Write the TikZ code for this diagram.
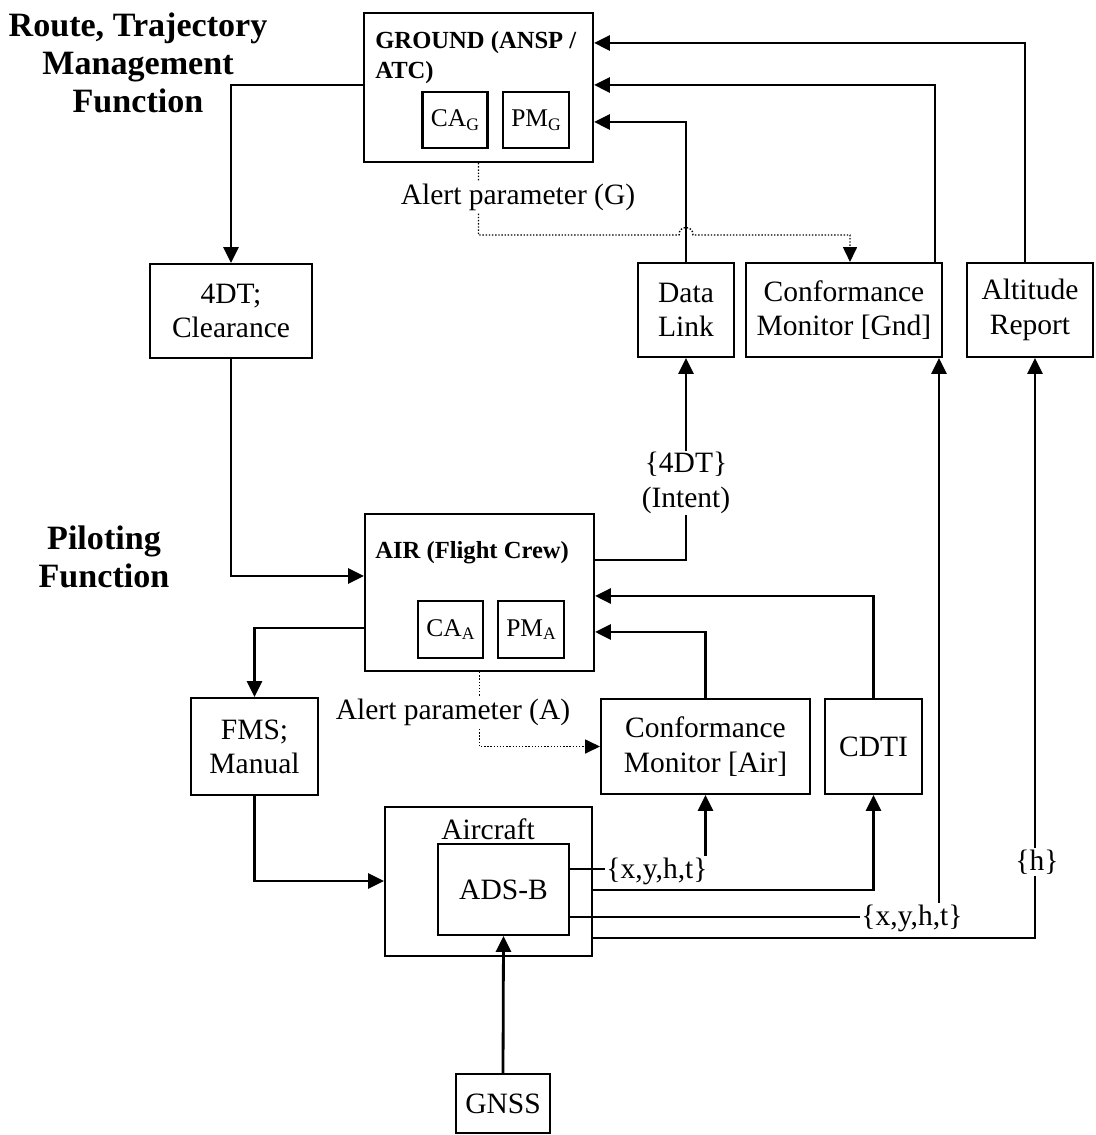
\documentclass[tikz,border=0pt]{standalone}
\usepackage{fontspec}
\setmainfont{Liberation Serif}
\usetikzlibrary{positioning,arrows.meta,calc}
\newcommand{\lowsub}[1]{\raisebox{-0.3ex}{\fontsize{10}{10}\selectfont #1}}

\begin{document}
\begin{tikzpicture}[
  x=0.02cm, y=-0.02cm,
  font=\fontsize{16.8}{19.5}\selectfont,
  box/.style={draw, line width=1.2pt, align=center, inner sep=0pt},
  sbox/.style={box, font=\fontsize{14.5}{16}\selectfont, minimum width=1.3cm, minimum height=1.13cm},
  head/.style={font=\fontsize{14}{17}\selectfont\bfseries, align=left, inner sep=0pt},
  title/.style={font=\fontsize{19.4}{21.5}\selectfont\bfseries, align=center},
  arr/.style={-{Triangle[length=9pt,width=8.5pt]}, line width=1.6pt},
  alert/.style={densely dotted, line width=0.8pt, -{Triangle[length=8.5pt,width=8pt]}},
  tag/.style={fill=white, inner sep=1pt, align=center}
]
\useasboundingbox (0,0) rectangle (1095,1135);
\node[title] (rtm) at (138,63) {Route, Trajectory\\Management\\Function};
\node[title] (pilot) at (104,557) {Piloting\\Function};
\node[box, minimum width=4.58cm, minimum height=2.98cm] (ground) at (478.5,87.5) {};
\node[head, anchor=north west] (gtitle) at (375,31) {GROUND (ANSP /\\ATC)};
\node[sbox] (cag) at (455,120) {CA\lowsub{G}};
\node[sbox, minimum width=1.32cm] (pmg) at (536,120) {PM\lowsub{G}};
\node[box, minimum width=1.92cm, minimum height=1.88cm] (datalink) at (686,310) {Data\\Link};
\node[box, minimum width=3.92cm, minimum height=1.88cm] (cmgnd) at (844,310) {Conformance\\Monitor [Gnd]};
\node[box, minimum width=2.52cm, minimum height=1.88cm] (altrep) at (1030,310) {Altitude\\Report};
\node[box, minimum width=3.24cm, minimum height=1.88cm] (clearance) at (231,311) {4DT;\\Clearance};
\node[box, minimum width=4.58cm, minimum height=3.14cm] (air) at (479.5,592.5) {};
\node[head, anchor=north west] (atitle) at (375,541) {AIR (Flight Crew)};
\node[sbox] (caa) at (450.5,629.5) {CA\lowsub{A}};
\node[sbox, minimum width=1.32cm] (pma) at (531,629.5) {PM\lowsub{A}};
\node[box, minimum width=2.54cm, minimum height=1.94cm] (fms) at (254.5,746.5) {FMS;\\Manual};
\node[box, minimum width=4.18cm, minimum height=1.9cm] (cmair) at (705.5,746.5) {Conformance\\Monitor [Air]};
\node[box, minimum width=1.94cm, minimum height=1.9cm] (cdti) at (873.5,746.5) {CDTI};
\node[box, minimum width=4.14cm, minimum height=2.98cm] (aircraft) at (488.5,881.5) {};
\node (aclabel) at (488,829) {Aircraft};
\node[box, minimum width=2.62cm, minimum height=1.82cm] (adsb) at (503.5,889.5) {ADS-B};
\node[box, minimum width=1.88cm, minimum height=1.18cm] (gnss) at (503,1103.5) {GNSS};
\coordinate (hop) at (686,235);
\draw[arr] (altrep.north -| 1025,0) |- ($(ground.north east)+(0,31)$);
\draw[arr] (cmgnd.north -| 935,0) |- ($(ground.north east)+(0,73)$);
\draw[arr] (datalink.north) |- ($(ground.north east)+(0,110)$);
\draw[arr] ($(ground.north west)+(0,73)$) -| (clearance.north);
\draw[arr] (clearance.south) |- ($(air.north west)+(0,63)$);
\draw[arr] ($(air.north east)+(0,47)$) -| (datalink.south);
\draw[arr] (cdti.north) |- ($(air.north east)+(0,83)$);
\draw[arr] (cmair.north) |- ($(air.north east)+(0,119)$);
\draw[arr] ($(air.north west)+(0,115)$) -| (fms.north);
\draw[arr] (fms.south) |- ($(aircraft.north west)+(0,75)$);
\draw[arr] ($(aircraft.north east)+(0,84)$) -| (cdti.south);
\draw[arr] ($(adsb.north east)+(0,26)$) -| (cmair.south);
\draw[arr] ($(adsb.north east)+(0,74)$) -| (cmgnd.south -| 939,0);
\draw[arr] ($(aircraft.north east)+(0,132)$) -| (altrep.south -| 1035,0);
\draw[arr] (gnss.north) -- (adsb.south);
\draw[alert] (ground.south) |- ($(hop)+(-7,0)$) .. controls ($(hop)+(-7,-10)$) and ($(hop)+(7,-10)$) .. ($(hop)+(7,0)$) -| (cmgnd.north -| 850,0);
\draw[alert] (air.south) |- (cmair.west);
\node[tag] (alertg) at (518,197) {Alert parameter (G)};
\node[tag] (alerta) at (453,712) {Alert parameter (A)};
\node[tag] (intent) at (686,483) {\{4DT\}\\(Intent)};
\node[tag] (xyhta) at (657,871) {\{x,y,h,t\}};
\node[tag] (xyhtb) at (912,918) {\{x,y,h,t\}};
\node[tag] (hlabel) at (1037,862) {\{h\}};
\end{tikzpicture}
\end{document}
